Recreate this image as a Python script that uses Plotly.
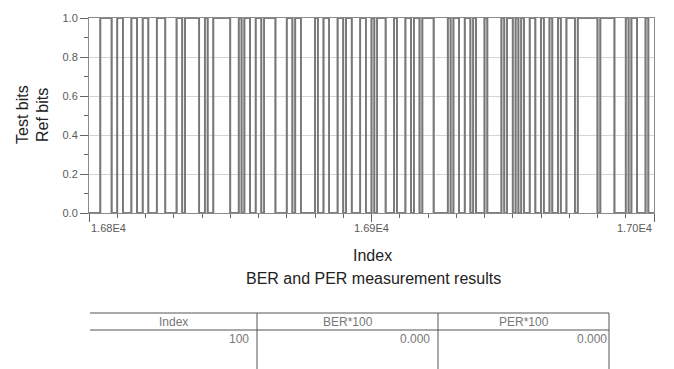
import plotly.graph_objects as go

# ---------------- data ----------------
index_start = 16800
index_end = 17000
bits = [
    0, 0, 0, 0, 1, 1, 1, 1, 0, 0,
    1, 1, 0, 0, 0, 1, 1, 0, 0, 1,
    1, 0, 0, 0, 1, 1, 1, 0, 0, 0,
    0, 1, 1, 0, 1, 1, 1, 1, 1, 0,
    0, 1, 0, 0, 1, 1, 1, 1, 1, 1,
    0, 0, 0, 1, 0, 1, 1, 0, 0, 1,
    1, 0, 1, 1, 1, 1, 0, 0, 0, 0,
    1, 1, 0, 1, 1, 0, 0, 0, 0, 0,
    1, 0, 0, 1, 1, 0, 0, 0, 1, 1,
    0, 1, 1, 0, 0, 0, 1, 1, 0, 0,
    1, 0, 1, 1, 1, 0, 0, 0, 1, 0,
    0, 0, 1, 1, 0, 1, 1, 0, 1, 1,
    1, 1, 0, 0, 0, 0, 0, 1, 0, 1,
    1, 0, 0, 1, 1, 0, 1, 0, 0, 0,
    1, 0, 0, 0, 0, 0, 1, 0, 1, 1,
    0, 1, 0, 1, 0, 0, 1, 1, 0, 0,
    1, 0, 0, 1, 0, 0, 1, 0, 0, 1,
    1, 1, 0, 1, 1, 1, 1, 1, 1, 1,
    0, 1, 1, 1, 1, 1, 0, 0, 0, 0,
    1, 0, 1, 1, 0, 0, 0, 1, 0, 0,
    0,
]
test_bits = bits
ref_bits = bits
x_index = list(range(index_start, index_start + len(bits)))

x_tick_vals = [16800, 16900, 17000]
x_tick_text = ["1.68E4", "1.69E4", "1.70E4"]

table_headers = ["Index", "BER*100", "PER*100"]
table_values = ["100", "0.000", "0.000"]

# ---------------- layout geometry (pixels) ----------------
W, H = 674, 369
L, R, T, B = 89, 654, 18, 213


def px(xp):
    return (xp - L) / (R - L)


def py(yp):
    return (B - yp) / (B - T)


FONT = "Liberation Sans Narrow, Arial Narrow, Liberation Sans, Arial, sans-serif"
LINE_COLOR = "#787878"

fig = go.Figure()
fig.add_trace(go.Scatter(x=x_index, y=test_bits, mode="lines", line_shape="hv",
                         line=dict(color=LINE_COLOR, width=1.7), name="Test bits",
                         showlegend=False, hoverinfo="skip"))
fig.add_trace(go.Scatter(x=x_index, y=ref_bits, mode="lines", line_shape="hv",
                         line=dict(color=LINE_COLOR, width=1.7), name="Ref bits",
                         showlegend=False, hoverinfo="skip"))

fig.update_layout(
    width=W, height=H,
    margin=dict(l=L, r=W - R, t=T, b=H - B),
    paper_bgcolor="white", plot_bgcolor="white",
    font=dict(family=FONT, color="#555555", size=11),
    xaxis=dict(range=[index_start, index_end], showgrid=False, zeroline=False,
               showline=True, linecolor="#8a8a8a", linewidth=1, mirror=True,
               ticks="outside", tickvals=x_tick_vals, ticklen=8, tickcolor="#666666",
               showticklabels=False,
               minor=dict(dtick=10, ticks="outside", ticklen=4, tickcolor="#666666",
                          showgrid=False)),
    yaxis=dict(range=[0, 1], showgrid=True, gridcolor="#d4d4d4", gridwidth=1,
               zeroline=False, showline=True, linecolor="#8a8a8a", linewidth=1,
               mirror=True, ticks="outside", dtick=0.2, tickformat=".1f",
               ticklen=8, tickcolor="#666666",
               tickfont=dict(size=11, color="#5a5a5a", family=FONT),
               minor=dict(dtick=0.1, ticks="outside", ticklen=4, tickcolor="#666666",
                          showgrid=False)),
)

annotations = []
# x tick labels
for v, t in zip(x_tick_vals, x_tick_text):
    anchor = "left" if v == x_tick_vals[0] else ("right" if v == x_tick_vals[-1] else "center")
    annotations.append(dict(x=v, y=py(228), xref="x", yref="paper", text=t,
                            showarrow=False, xanchor=anchor, yanchor="middle",
                            font=dict(size=11, color="#5a5a5a", family=FONT)))
# y titles
annotations.append(dict(x=px(22), y=py(115), xref="paper", yref="paper", text="Test bits",
                        textangle=-90, showarrow=False, xanchor="center", yanchor="middle",
                        font=dict(size=16, color="#222222", family=FONT)))
annotations.append(dict(x=px(42), y=py(115), xref="paper", yref="paper", text="Ref bits",
                        textangle=-90, showarrow=False, xanchor="center", yanchor="middle",
                        font=dict(size=16, color="#222222", family=FONT)))
# x title and table title
annotations.append(dict(x=px(372), y=py(255), xref="paper", yref="paper", text="Index",
                        showarrow=False, xanchor="center", yanchor="middle",
                        font=dict(size=16, color="#222222", family=FONT)))
annotations.append(dict(x=px(373), y=py(278), xref="paper", yref="paper",
                        text="BER and PER measurement results",
                        showarrow=False, xanchor="center", yanchor="middle",
                        font=dict(size=16, color="#222222", family=FONT)))

# table
col_edges = [90, 257, 438, 609]
tbl_top, tbl_head, tbl_bot = 313, 330, 372
shapes = []
tc = "#555555"
shapes.append(dict(type="line", xref="paper", yref="paper", x0=px(col_edges[0]), x1=px(col_edges[-1]),
                   y0=py(tbl_top), y1=py(tbl_top), line=dict(color=tc, width=1)))
shapes.append(dict(type="line", xref="paper", yref="paper", x0=px(col_edges[0]), x1=px(col_edges[-1]),
                   y0=py(tbl_head), y1=py(tbl_head), line=dict(color=tc, width=1)))
for ce in col_edges[1:]:
    shapes.append(dict(type="line", xref="paper", yref="paper", x0=px(ce), x1=px(ce),
                       y0=py(tbl_top), y1=py(tbl_bot), line=dict(color=tc, width=1)))
for i, (h, v) in enumerate(zip(table_headers, table_values)):
    cx = (col_edges[i] + col_edges[i + 1]) / 2
    annotations.append(dict(x=px(cx), y=py(321.5), xref="paper", yref="paper", text=h,
                            showarrow=False, xanchor="center", yanchor="middle",
                            font=dict(size=12, color="#777777", family=FONT)))
    annotations.append(dict(x=px(col_edges[i + 1] - 6 if i < 2 else col_edges[i + 1]), y=py(339),
                            xref="paper", yref="paper", text=v,
                            showarrow=False, xanchor="right", yanchor="middle",
                            font=dict(size=12, color="#777777", family=FONT)))

fig.update_layout(annotations=annotations, shapes=shapes)
fig.write_html("out.html", config={"displayModeBar": False},
               post_script="document.body.style.margin='0';document.body.style.overflow='hidden';")
